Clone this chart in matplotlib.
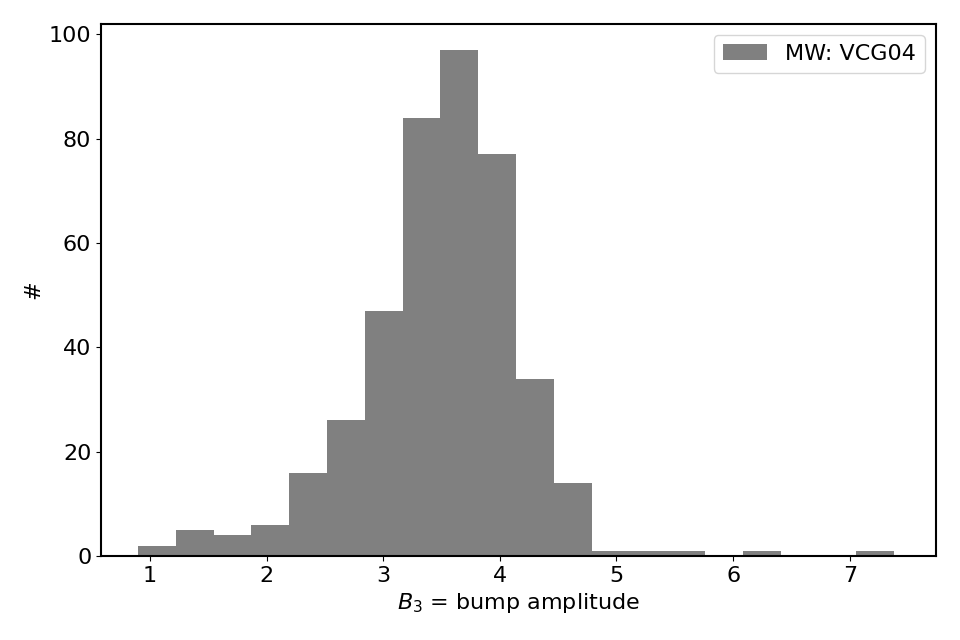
import numpy as np
import matplotlib
matplotlib.use("Agg")
import matplotlib.pyplot as plt

bin_start = 0.897
bin_end = 7.38
counts = [2, 5, 4, 6, 16, 26, 47, 84, 97, 77, 34, 14, 1, 1, 1, 0, 1, 0, 0, 1]
edges = np.linspace(bin_start, bin_end, len(counts) + 1)

plt.rcParams['font.size'] = 16
fig = plt.figure(figsize=(9.6, 6.4), dpi=100)
ax = fig.add_axes([101/960, 1-556/640, (936-101)/960, (556-24)/640])
ax.hist(edges[:-1], bins=edges, weights=counts, color='gray', label='MW: VCG04')
ax.set_xlim(0.58, 7.74)
ax.set_ylim(0, 102)
ax.set_xlabel(r'$B_3$ = bump amplitude')
ax.set_ylabel('#')
for s in ax.spines.values():
    s.set_linewidth(1.5)
ax.legend(loc='upper right')
fig.savefig('out.png')
